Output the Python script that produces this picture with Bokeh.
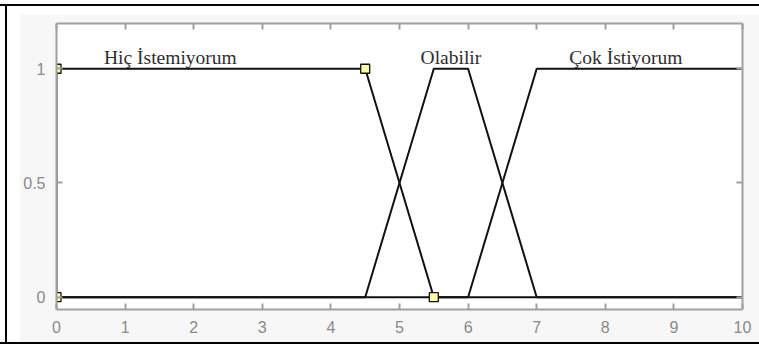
from bokeh.plotting import figure
from bokeh.models import ColumnDataSource, FixedTicker, Range1d, LinearAxis, Spacer
from bokeh.layouts import column, row
from bokeh.core.properties import value
from bokeh.embed import file_html
from bokeh.resources import INLINE

# Membership function vertices (x, degree of membership)
hic_x = [0, 0, 4.5, 5.5, 10]
hic_y = [0, 1, 1, 0, 0]
olabilir_x = [0, 4.5, 5.5, 6, 7, 10]
olabilir_y = [0, 0, 1, 1, 0, 0]
cok_x = [0, 6, 7, 10]
cok_y = [0, 0, 1, 1]

# Parameters of the selected function (shown with square handles)
selected_x = [0, 0, 4.5, 5.5]
selected_y = [0, 1, 1, 0]

mf_names = ["Hiç İstemiyorum", "Olabilir", "Çok İstiyorum"]

x_ticks = list(range(0, 11))
y_ticks = [0, 0.5, 1]
y_tick_labels = ["0", "0.5", "1"]

AXIS_GRAY = "#a0a0a0"
TICK_TEXT = "#8a8a8a"
PANEL = "#f7f7f7"

# Page geometry: thin black frame around a light grey panel holding the axes
W, H = 759, 345
PANEL_LEFT, PANEL_TOP = 19, 14
FIG_W, FIG_H = W - PANEL_LEFT, 328

p = figure(width=FIG_W, height=FIG_H, output_backend="svg", toolbar_location=None,
           x_range=Range1d(0, 10), y_range=Range1d(-0.054, 1.198),
           min_border_left=37, min_border_right=17, min_border_top=9,
           min_border_bottom=33)
p.border_fill_color = PANEL
p.background_fill_color = "white"
p.outline_line_color = None
p.grid.visible = False

# Bottom / left axes carry the labels
for ax in (p.xaxis[0], p.yaxis[0]):
    ax.axis_line_color = AXIS_GRAY
    ax.axis_line_width = 2
    ax.major_tick_line_color = AXIS_GRAY
    ax.major_tick_line_width = 2
    ax.major_tick_in = 6
    ax.major_tick_out = 0
    ax.minor_tick_line_color = None
    ax.major_label_text_font = "Liberation Sans"
    ax.major_label_text_font_size = "16px"
    ax.major_label_text_color = TICK_TEXT

p.xaxis[0].ticker = FixedTicker(ticks=x_ticks)
p.xaxis[0].major_label_standoff = 11
p.yaxis[0].ticker = FixedTicker(ticks=y_ticks)
p.yaxis[0].major_label_overrides = {t: s for t, s in zip(y_ticks, y_tick_labels)}
p.yaxis[0].major_label_standoff = 11

# Top / right axes: box edges with inward ticks, no labels
top = LinearAxis(ticker=FixedTicker(ticks=x_ticks))
right = LinearAxis(ticker=FixedTicker(ticks=y_ticks))
for ax in (top, right):
    ax.axis_line_color = AXIS_GRAY
    ax.axis_line_width = 2
    ax.major_tick_line_color = AXIS_GRAY
    ax.major_tick_line_width = 2
    ax.major_tick_in = 6
    ax.major_tick_out = 0
    ax.minor_tick_line_color = None
    ax.major_label_text_color = None
    ax.major_label_text_font_size = "1px"
    ax.major_label_standoff = 0
p.add_layout(top, "above")
p.add_layout(right, "right")

# Membership function curves
for xs, ys in ((hic_x, hic_y), (olabilir_x, olabilir_y), (cok_x, cok_y)):
    p.line(xs, ys, line_color="#111111", line_width=2)

p.scatter(selected_x, selected_y, marker="square", size=9,
          fill_color="#ffffa8", line_color="#111111", line_width=1.3)

# Function names above each curve
name_src = ColumnDataSource(dict(x=[1.66, 5.75, 8.30], y=[1.05] * 3, t=mf_names))
p.text("x", "y", text="t", source=name_src, text_align="center",
       text_baseline="alphabetic", text_font=value("Liberation Serif"),
       text_font_size="19.5px", text_color="#2e2e2e")


def bar(w, h, color="white"):
    return Spacer(width=w, height=h, styles={"background-color": color})


inner_h = FIG_H + (PANEL_TOP - 6)
layout = column(
    bar(W, 4),
    bar(W, 2, "black"),
    row(
        bar(5, inner_h),
        bar(2, inner_h, "black"),
        column(
            bar(W - 7, PANEL_TOP - 6),
            row(bar(PANEL_LEFT - 7, FIG_H), p),
        ),
    ),
    bar(W, 2, "black"),
)

open("out.html", "w").write(file_html(layout, INLINE))
